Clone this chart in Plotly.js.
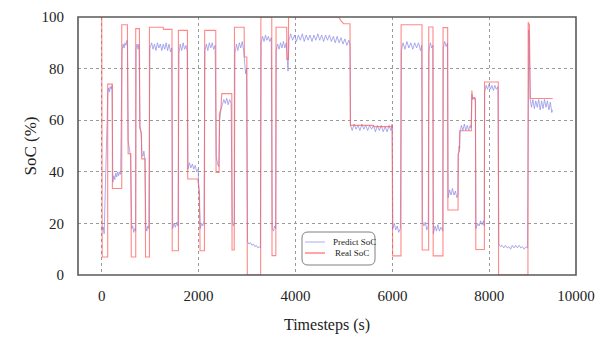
<!DOCTYPE html>
<html>
<head>
<meta charset="utf-8">
<script src="https://cdn.plot.ly/plotly-3.0.1.min.js"></script>
<style>html,body{margin:0;padding:0;background:#fff;}#chart{width:606px;height:341px;}</style>
</head>
<body>
<div id="chart"></div>
<script>
// Real SoC (step-like reference signal)
const realX = [0,10,123,123,220,220,413,413,530,540,545,600,610,702,702,778,785,820,825,895,905,985,985,1270,1275,1450,1455,1583,1583,1769,1775,1982,2017,2030,2120,2125,2354,2360,2423,2430,2460,2478,2685,2690,2735,2740,2940,2945,2995,3005,3280,3285,3510,3515,3594,3598,3818,3822,3852,3856,4889,4940,4992,5125,5132,5600,5620,5980,5995,6005,6177,6180,6611,6615,6748,6750,6838,6842,7044,7046,7141,7145,7355,7358,7385,7390,7630,7640,7655,7715,7722,7899,7902,8185,8192,8798,8803,8828,8845,9310];
const realY = [100,7,7,74,74,33.5,33.5,97,97,57,47,47,7,7,95.5,95.5,57,55,45,45,7,7,96,96,95.2,95.2,9.4,9.4,94.8,94.8,37.2,37.2,32,9.4,9.4,94.8,94.8,39.7,39.7,62.6,64.5,70.3,70.3,9.7,9.7,96,96,84.5,84.5,0,0,100,100,7.5,7.5,96,96,83.5,83.5,100,100,98.5,97.4,97.4,58,58,57.5,57.5,58.5,7.4,7.4,97,97,9.7,9.7,96.1,96.1,7.4,7.4,95.9,95.9,25.2,25.2,47,48,55.9,55.9,71.5,68.5,68.5,9.9,9.9,74.8,74.8,0,0,98,97,68.4,68.4];

// Predict SoC (model output)
const predX = [5,20,35,50,125,140,160,175,195,210,230,250,270,290,310,330,350,370,390,420,440,460,480,500,520,530,545,560,575,595,620,640,660,680,700,710,730,750,770,790,810,830,850,870,890,910,930,950,970,995,1030,1060,1090,1120,1150,1180,1210,1240,1270,1300,1330,1360,1390,1420,1445,1465,1490,1520,1550,1575,1595,1620,1650,1680,1710,1740,1765,1780,1810,1840,1870,1900,1930,1960,1990,2035,2060,2085,2110,2130,2160,2190,2220,2250,2280,2310,2340,2365,2390,2415,2435,2460,2490,2520,2550,2580,2610,2640,2670,2695,2720,2738,2750,2780,2810,2840,2870,2900,2930,2950,2970,2990,3010,3040,3070,3100,3130,3160,3190,3220,3250,3275,3290,3320,3350,3380,3410,3440,3470,3500,3520,3545,3570,3590,3600,3630,3660,3690,3720,3750,3780,3810,3830,3845,3865,3900,3940,3980,4020,4060,4100,4140,4180,4220,4260,4300,4340,4380,4420,4460,4500,4540,4580,4620,4660,4700,4740,4780,4820,4860,4900,4940,4980,5020,5060,5100,5125,5135,5170,5210,5250,5290,5330,5370,5410,5450,5490,5530,5570,5610,5650,5690,5730,5770,5810,5850,5890,5930,5970,5995,6010,6040,6070,6100,6130,6165,6185,6220,6260,6300,6340,6380,6420,6460,6500,6540,6580,6605,6620,6650,6680,6710,6740,6755,6785,6810,6835,6845,6880,6910,6940,6970,7000,7040,7050,7080,7110,7138,7150,7180,7210,7240,7270,7300,7330,7352,7360,7375,7388,7395,7425,7455,7485,7515,7545,7575,7605,7625,7640,7660,7690,7712,7725,7760,7790,7820,7850,7880,7895,7905,7935,7965,7995,8025,8055,8085,8115,8145,8178,8198,8230,8265,8300,8335,8370,8405,8440,8475,8510,8545,8580,8615,8650,8685,8720,8755,8790,8805,8815,8830,8845,8870,8900,8930,8960,8990,9020,9050,9080,9110,9140,9170,9200,9230,9260,9290,9305];
const predY = [19,17.5,18.5,16,70,72.5,71,73,72,73.5,36,38.5,37,39.5,38,40,38.5,40,39,87,89.5,88,90,89,91,90,52,50,47,46,18,19,16.5,18,17,88,89.5,87.5,89.5,58,55,47,46,48,45,19,17,19,18,88,90,87.5,89.5,87,90,88,89.5,87,89.5,87.5,90,87,89.5,86.5,88,18,20,18.5,20.5,19,86,89.5,87,90,87.5,89,86.5,41,43.5,41.5,43,41,42.5,40,41,18,20,19,21,87,89.5,87,90,88,90,87.5,89,46,43,42,60,64,66,68,66.5,68.5,66,68,66.5,20,19,21,86,89.5,87,90,88,90.5,87,82,78,80,13,12,12.5,11.5,12,11,11.5,10.5,11,10.5,90,92.5,90.5,93,91,92.5,90.5,92,18,17,19,18,87,89.5,87.5,90,88,90.5,88,90,82,79,91,93.5,91,93,90.5,93,91,93.5,90.5,93,91,93,90.5,93,91,93.5,91,93,90.5,93,91,93,90.5,92.5,90,92.5,90,92,89.5,91.5,89,91,89,58,56,58.5,56.5,58,56,58.5,56.5,58,56,58,56.5,58,55.5,58,56,58,55.5,57.5,55.5,58,56,58,18,20,17.5,19,16.5,18,87,90,87.5,90.5,88,90,87.5,90,88,90,87,89,21,19,20.5,17.5,19,87,90,88,89,16,19,17,19.5,17,18.5,17,88,90.5,88.5,90,30,33,31,33.5,31,32.5,30,31,46,50,49,55,58,56,58.5,56,58,56,58,57,70,68,69,67,18,20,19,21,19.5,21,19,71,73.5,72,74,72,73.5,71.5,73.5,72,73,12,11,11.5,10.5,11.5,10.5,11,10,11.5,10.5,11.5,10.5,11.5,10.5,11,10,11,10.5,80,95,85,68,65,68,64.5,67.5,65,68,64,67.5,64.5,68,65,67.5,64,67,63,64];

// Axis ticks
const xTickVals = [0,2000,4000,6000,8000,9789];
const xTickText = ['0','2000','4000','6000','8000','10000'];
const yTickVals = [0,20,40,60,80,100];

// Legend entries
const legendNames = ['Predict SoC', 'Real SoC'];

const serif = '"Liberation Serif", "Times New Roman", serif';
const predColor = 'rgba(140,140,232,0.72)';
const realColor = 'rgba(255,90,90,0.72)';
const frameColor = '#5a5a5a';

const traces = [
  {x: predX, y: predY, type: 'scatter', mode: 'lines', name: legendNames[0],
   line: {color: predColor, width: 1}, showlegend: false},
  {x: realX, y: realY, type: 'scatter', mode: 'lines', name: legendNames[1],
   line: {color: realColor, width: 1.1}, showlegend: false}
];

// plot area in pixels -> paper helpers
const L = 78, R = 576, T = 17, B = 275;
const px = v => (v - L) / (R - L);
const py = v => (B - v) / (B - T);

// legend rounded box
const x0 = px(302), x1 = px(375), y0 = py(265), y1 = py(232);
const rx = 6 / (R - L), ry = 6 / (B - T);
const boxPath = `M ${x0+rx},${y0} L ${x1-rx},${y0} Q ${x1},${y0} ${x1},${y0+ry} L ${x1},${y1-ry} Q ${x1},${y1} ${x1-rx},${y1} L ${x0+rx},${y1} Q ${x0},${y1} ${x0},${y1-ry} L ${x0},${y0+ry} Q ${x0},${y0} ${x0+rx},${y0} Z`;

const layout = {
  width: 606, height: 341,
  margin: {l: L, r: 606 - R, t: T, b: 341 - B},
  paper_bgcolor: '#fff', plot_bgcolor: '#fff',
  font: {family: serif, color: '#222', size: 14},
  showlegend: false,
  xaxis: {
    range: [-490, 9790], tickmode: 'array', tickvals: xTickVals, ticktext: xTickText,
    showgrid: true, gridcolor: '#9a9a9a', griddash: '3px,3px', gridwidth: 1,
    zeroline: false, showline: false,
    ticks: '', ticklabelstandoff: 10, tickfont: {family: serif, size: 15, color: '#222'},
    title: {text: 'Timesteps (s)', font: {family: serif, size: 16, color: '#222'}, standoff: 15}
  },
  yaxis: {
    range: [0, 100], tickmode: 'array', tickvals: yTickVals,
    showgrid: true, gridcolor: '#9a9a9a', griddash: '3px,3px', gridwidth: 1,
    zeroline: false, showline: false,
    ticks: '', ticklabelstandoff: 13, tickfont: {family: serif, size: 15, color: '#222'},
    title: {text: 'SoC (%)', font: {family: serif, size: 17, color: '#222'}, standoff: 0}
  },
  shapes: [
    {type: 'rect', xref: 'paper', yref: 'paper', x0: 0, x1: 1, y0: 0, y1: 1,
     line: {color: frameColor, width: 1.6}, fillcolor: 'rgba(0,0,0,0)', layer: 'above'},
    {type: 'path', xref: 'paper', yref: 'paper', path: boxPath,
     line: {color: '#808080', width: 1}, fillcolor: '#fff', layer: 'above'},
    {type: 'line', xref: 'paper', yref: 'paper', x0: px(305), x1: px(325), y0: py(242), y1: py(242),
     line: {color: predColor, width: 1}, layer: 'above'},
    {type: 'line', xref: 'paper', yref: 'paper', x0: px(305), x1: px(325), y0: py(253), y1: py(253),
     line: {color: realColor, width: 1.5}, layer: 'above'}
  ],
  annotations: [
    {xref: 'paper', yref: 'paper', x: px(331), y: py(242), xanchor: 'left', yanchor: 'middle',
     text: legendNames[0], showarrow: false, font: {family: serif, size: 9, color: '#222'}},
    {xref: 'paper', yref: 'paper', x: px(333), y: py(253), xanchor: 'left', yanchor: 'middle',
     text: legendNames[1], showarrow: false, font: {family: serif, size: 9, color: '#222'}}
  ]
};

Plotly.newPlot('chart', traces, layout, {displayModeBar: false, staticPlot: true});
</script>
</body>
</html>
